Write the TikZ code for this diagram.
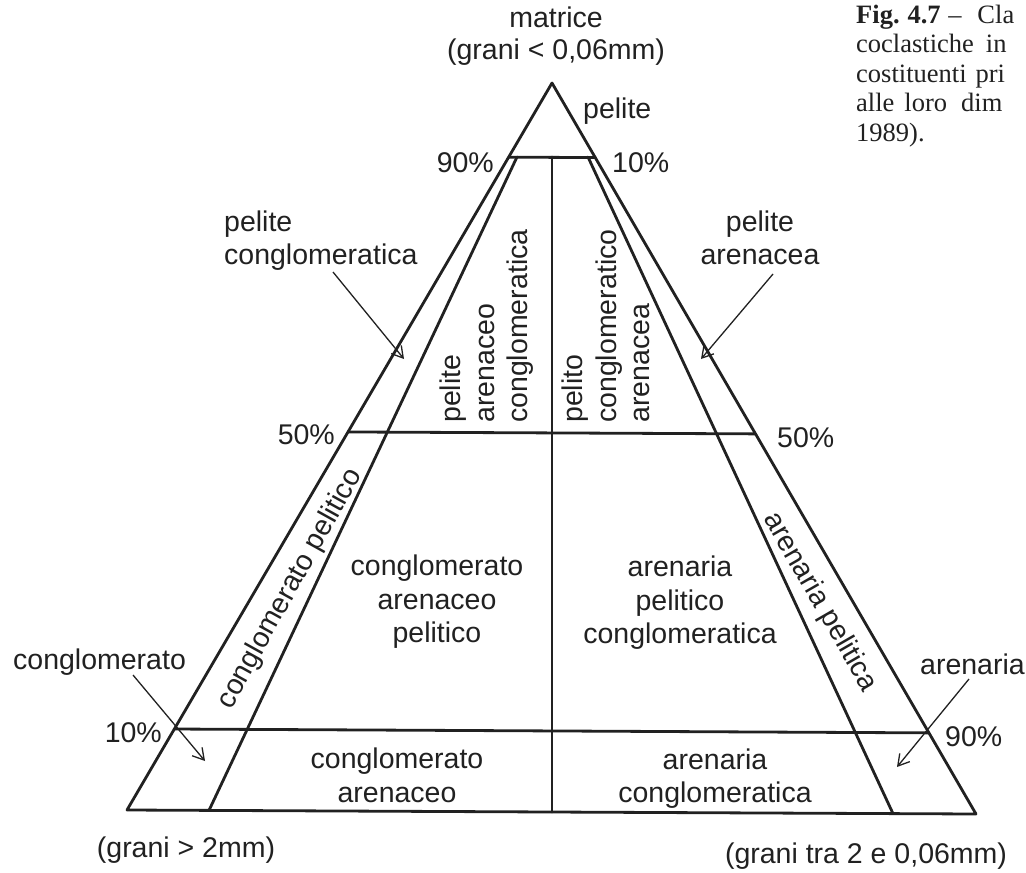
\documentclass[tikz,border=0pt]{standalone}
\usepackage{fontspec}
\setmainfont{Liberation Sans}
\newfontfamily\capfont{Liberation Serif}
\usetikzlibrary{arrows.meta,calc}
\definecolor{ink}{gray}{0.13}
\begin{document}
\begin{tikzpicture}[x=1pt,y=-1pt,
  edge/.style={draw=ink, line width=2.8pt, line cap=round, line join=round},
  pointer/.style={draw=ink, line width=1.3pt, -{Straight Barb[length=11pt,width=13pt,line width=1.3pt]}},
  lbl/.style={text=ink, font=\fontsize{28.5}{33.5}\selectfont, inner sep=0pt},
  captext/.style={text=ink, font=\capfont\fontsize{26.5}{29.5}\selectfont, inner sep=0pt, anchor=base west}]
\useasboundingbox (0,0) rectangle (1026,873);
\fill[white] (0,0) rectangle (1026,873);

% outer triangle
\coordinate (A) at (552,83);
\coordinate (BL) at (127,810);
\coordinate (BR) at (976,814);
\coordinate (L1) at ($(A)!0.102!(BL)$);
\coordinate (R1) at ($(A)!0.102!(BR)$);
\coordinate (L2) at ($(A)!0.480!(BL)$);
\coordinate (R2) at ($(A)!0.480!(BR)$);
\coordinate (L3) at ($(A)!0.8886!(BL)$);
\coordinate (R3) at ($(A)!0.889!(BR)$);
\coordinate (T1) at (517,157);
\coordinate (TM) at (552,157);
\coordinate (T2) at (588,157);
\coordinate (B1) at (209,810.4);
\coordinate (BM) at (552,812);
\coordinate (B2) at (893,813.6);

\draw[edge] (A) -- (BL) -- (BR) -- cycle;
\draw[edge] (L1) -- (R1);
\draw[edge] (L2) -- (R2);
\draw[edge] (L3) -- (R3);
\draw[edge] (T1) -- (B1);
\draw[edge] (TM) -- (BM);
\draw[edge] (T2) -- (B2);

% top labels
\node[lbl] (matrice) at (556,17) {matrice};
\node[lbl] (granimat) at (556,52) {(grani < 0,06mm)};
\node[lbl, anchor=west] (pelite) at (583,111) {pelite};
\node[lbl, anchor=east] (p90t) at (494,163) {90\%};
\node[lbl, anchor=west] (p10t) at (612,163) {10\%};

\node[lbl, anchor=west, align=left] (pconglo) at (224,240.5) {pelite\\conglomeratica};
\node[lbl, align=center] (parena) at (760,238) {pelite\\arenacea};

% vertical labels
\node[lbl, rotate=90, anchor=north west, align=left] (pac) at (440,423) {pelite\\arenaceo\\conglomeratica};
\node[lbl, rotate=90, anchor=north west, align=left] (pca) at (562,423) {pelito\\conglomeratico\\arenacea};

\node[lbl, anchor=east] (p50l) at (335,435) {50\%};
\node[lbl, anchor=west] (p50r) at (777,438) {50\%};

% strip labels
\node[lbl, rotate=61] (cp) at (290,589) {conglomerato pelitico};
\node[lbl, rotate=-60] (ap) at (820,602) {arenaria pelitica};

% central labels
\node[lbl, align=center] (cap1) at (437,602) {conglomerato\\arenaceo\\pelitico};
\node[lbl, align=center] (apc) at (680,603) {arenaria\\pelitico\\conglomeratica};
\node[lbl, align=center] (ca) at (397,775.5) {conglomerato\\arenaceo};
\node[lbl, align=center] (ac) at (715,778.5) {arenaria\\conglomeratica};

% corner labels
\node[lbl, anchor=west] (conglo) at (13,662) {conglomerato};
\node[lbl, anchor=east] (p10b) at (162,733) {10\%};
\node[lbl, anchor=west] (aren) at (920,664) {arenaria};
\node[lbl, anchor=west] (p90b) at (945,737) {90\%};
\node[lbl] (gr2) at (186,850) {(grani > 2mm)};
\node[lbl] (grtra) at (866,856) {(grani tra 2 e 0,06mm)};

% arrows
\coordinate (a1s) at (333,272); \coordinate (a1e) at (404,359);
\coordinate (a2s) at (773,274); \coordinate (a2e) at (701,359);
\coordinate (a3s) at (133,675); \coordinate (a3e) at (205,761);
\coordinate (a4s) at (969,679); \coordinate (a4e) at (897,767);
\draw[pointer] (a1s) -- (a1e);
\draw[pointer] (a2s) -- (a2e);
\draw[pointer] (a3s) -- (a3e);
\draw[pointer] (a4s) -- (a4e);

% caption (cut at the right edge)
\begin{scope}
\clip (0,0) rectangle (1026,873);
\node[captext] (c1) at (856,23) {\textbf{Fig.}\hspace{8pt}\textbf{4.7}\hspace{7.5pt}–\hspace{16pt}Cla};
\node[captext] (c2) at (856,52.5) {coclastiche\hspace{12pt}in};
\node[captext] (c3) at (856,82) {costituenti\hspace{9pt}pri};
\node[captext] (c4) at (856,111.5) {alle\hspace{10pt}loro\hspace{14pt}dim};
\node[captext] (c5) at (856,141) {1989).};
\end{scope}
\end{tikzpicture}
\end{document}
